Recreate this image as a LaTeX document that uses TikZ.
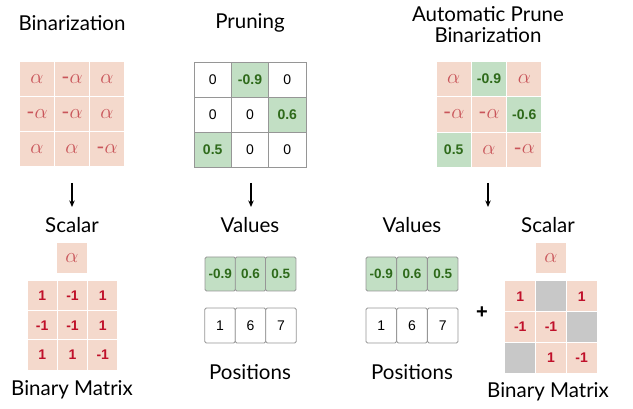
\documentclass[tikz,border=0pt]{standalone}
\usepackage{fontspec}
\setmainfont{Lato}
\newfontfamily\numfont{Liberation Sans}
\usetikzlibrary{arrows.meta}
\definecolor{pinkfill}{RGB}{244,217,204}
\definecolor{alphacol}{RGB}{201,85,90}
\definecolor{rednum}{RGB}{192,16,42}
\definecolor{greenfill}{RGB}{194,223,196}
\definecolor{greentext}{RGB}{46,106,26}
\definecolor{grayfill}{RGB}{200,200,200}
\definecolor{bordergray}{RGB}{150,150,150}
\newcommand{\nalpha}{\raisebox{-1.5pt}{-}$\alpha$}
\tikzset{
  lbl/.style={font=\fontsize{20.5}{23}\selectfont, inner sep=0pt},
  acell/.style={fill=pinkfill, draw=white, line width=1pt, minimum width=35pt, minimum height=35pt, inner sep=0pt, text=alphacol, font=\fontsize{22}{24}\selectfont},
  pcell/.style={draw=bordergray, line width=0.8pt, minimum width=37.3pt, minimum height=35pt, inner sep=0pt, font=\numfont\fontsize{14}{16}\selectfont},
  gcell/.style={pcell, fill=greenfill, text=greentext, font=\numfont\bfseries\fontsize{14}{16}\selectfont},
  qcell/.style={fill=greenfill, draw=white, line width=1pt, minimum width=35.3pt, minimum height=35.5pt, inner sep=0pt, text=greentext, font=\numfont\bfseries\fontsize{14}{16}\selectfont},
  bcell/.style={fill=pinkfill, draw=white, line width=1pt, minimum width=#1, minimum height=#1, inner sep=0pt, text=rednum, font=\numfont\bfseries\fontsize{14}{16}\selectfont},
  bcell/.default=30.3pt,
  xcell/.style={bcell=30.7pt, fill=grayfill},
  scal/.style={fill=pinkfill, minimum width=30pt, minimum height=30pt, inner sep=0pt, text=alphacol, font=\fontsize{22}{24}\selectfont},
  vcell/.style={draw=bordergray, line width=0.8pt, rounded corners=1.5pt, fill=greenfill, minimum width=30.5pt, minimum height=34pt, inner sep=0pt, text=greentext, font=\numfont\bfseries\fontsize{13.5}{16}\selectfont},
  poscell/.style={draw=bordergray, line width=0.8pt, rounded corners=1.5pt, fill=white, minimum width=30.5pt, minimum height=35pt, inner sep=0pt, font=\numfont\fontsize{14}{16}\selectfont},
  arr/.style={-{Stealth[length=6.5pt,width=5.5pt]}, line width=1.1pt}
}
\begin{document}
\begin{tikzpicture}[x=1pt,y=-1pt]
\useasboundingbox (0,0) rectangle (633,409);
% ---------- Binarization ----------
\node[lbl] (t1) at (72,23) {Binarization};
\node[acell] (b11) at (37,79.5) {$\alpha$};
\node[acell] (b12) at (72,79.5) {\nalpha};
\node[acell] (b13) at (107,79.5) {$\alpha$};
\node[acell] (b21) at (37,114.5) {\nalpha};
\node[acell] (b22) at (72,114.5) {\nalpha};
\node[acell] (b23) at (107,114.5) {$\alpha$};
\node[acell] (b31) at (37,149.5) {$\alpha$};
\node[acell] (b32) at (72,149.5) {$\alpha$};
\node[acell] (b33) at (107,149.5) {\nalpha};
\coordinate (a1s) at (72,183);
\coordinate (a1e) at (72,207);
\draw[arr] (a1s) -- (a1e);
\node[lbl] (s1) at (72,225) {Scalar};
\node[scal] (sa1) at (72,258) {$\alpha$};
\node[bcell] (m11) at (42.2,296) {1};
\node[bcell] (m12) at (72.5,296) {-1};
\node[bcell] (m13) at (102.8,296) {1};
\node[bcell] (m21) at (42.2,325.5) {-1};
\node[bcell] (m22) at (72.5,325.5) {-1};
\node[bcell] (m23) at (102.8,325.5) {1};
\node[bcell] (m31) at (42.2,355) {1};
\node[bcell] (m32) at (72.5,355) {1};
\node[bcell] (m33) at (102.8,355) {-1};
\node[lbl] (bm1) at (72,390) {Binary Matrix};
% ---------- Pruning ----------
\node[lbl] (t2) at (250,23) {Pruning};
\node[pcell] (p11) at (212.7,79.5) {0};
\node[gcell] (p12) at (250,79.5) {-0.9};
\node[pcell] (p13) at (287.3,79.5) {0};
\node[pcell] (p21) at (212.7,114.5) {0};
\node[pcell] (p22) at (250,114.5) {0};
\node[gcell] (p23) at (287.3,114.5) {0.6};
\node[gcell] (p31) at (212.7,149.5) {0.5};
\node[pcell] (p32) at (250,149.5) {0};
\node[pcell] (p33) at (287.3,149.5) {0};
\coordinate (a2s) at (251,183);
\coordinate (a2e) at (251,207);
\draw[arr] (a2s) -- (a2e);
\node[lbl] (v2) at (250,225) {Values};
\node[vcell] (v21) at (220.3,274) {-0.9};
\node[vcell] (v22) at (250.5,274) {0.6};
\node[vcell] (v23) at (280.7,274) {0.5};
\node[poscell] (q21) at (220,325.5) {1};
\node[poscell] (q22) at (250.5,325.5) {6};
\node[poscell] (q23) at (281,325.5) {7};
\node[lbl] (ps2) at (250,372) {Positions};
% ---------- Automatic Prune Binarization ----------
\node[lbl, align=center] (t3) at (488,25) {Automatic Prune\\[-2pt]Binarization};
\node[acell, minimum width=35.3pt, minimum height=35.5pt] (c11) at (453.7,78.8) {$\alpha$};
\node[qcell] (c12) at (489,78.8) {-0.9};
\node[acell, minimum width=35.3pt, minimum height=35.5pt] (c13) at (524.3,78.8) {$\alpha$};
\node[acell, minimum width=35.3pt, minimum height=35.5pt] (c21) at (453.7,114.3) {\nalpha};
\node[acell, minimum width=35.3pt, minimum height=35.5pt] (c22) at (489,114.3) {\nalpha};
\node[qcell] (c23) at (524.3,114.3) {-0.6};
\node[qcell] (c31) at (453.7,149.8) {0.5};
\node[acell, minimum width=35.3pt, minimum height=35.5pt] (c32) at (489,149.8) {$\alpha$};
\node[acell, minimum width=35.3pt, minimum height=35.5pt] (c33) at (524.3,149.8) {\nalpha};
\coordinate (a3s) at (488,183);
\coordinate (a3e) at (488,207);
\draw[arr] (a3s) -- (a3e);
\node[lbl] (v3) at (412,225) {Values};
\node[vcell] (v31) at (381.3,274) {-0.9};
\node[vcell] (v32) at (412,274) {0.6};
\node[vcell] (v33) at (442.7,274) {0.5};
\node[poscell] (q31) at (381.3,325.5) {1};
\node[poscell] (q32) at (412,325.5) {6};
\node[poscell] (q33) at (442.7,325.5) {7};
\node[lbl] (ps3) at (412,372) {Positions};
\node[font=\numfont\bfseries\fontsize{20}{22}\selectfont, inner sep=0pt] (plus) at (482,313) {+};
\node[lbl] (s3) at (548,225) {Scalar};
\node[scal] (sa3) at (551,258) {$\alpha$};
\node[bcell=30.7pt] (n11) at (520.3,296.3) {1};
\node[xcell] (n12) at (551,296.3) {};
\node[bcell=30.7pt] (n13) at (581.7,296.3) {1};
\node[bcell=30.7pt] (n21) at (520.3,327) {-1};
\node[bcell=30.7pt] (n22) at (551,327) {-1};
\node[xcell] (n23) at (581.7,327) {};
\node[xcell] (n31) at (520.3,357.7) {};
\node[bcell=30.7pt] (n32) at (551,357.7) {1};
\node[bcell=30.7pt] (n33) at (581.7,357.7) {-1};
\node[lbl] (bm3) at (548,392) {Binary Matrix};
\end{tikzpicture}
\end{document}
